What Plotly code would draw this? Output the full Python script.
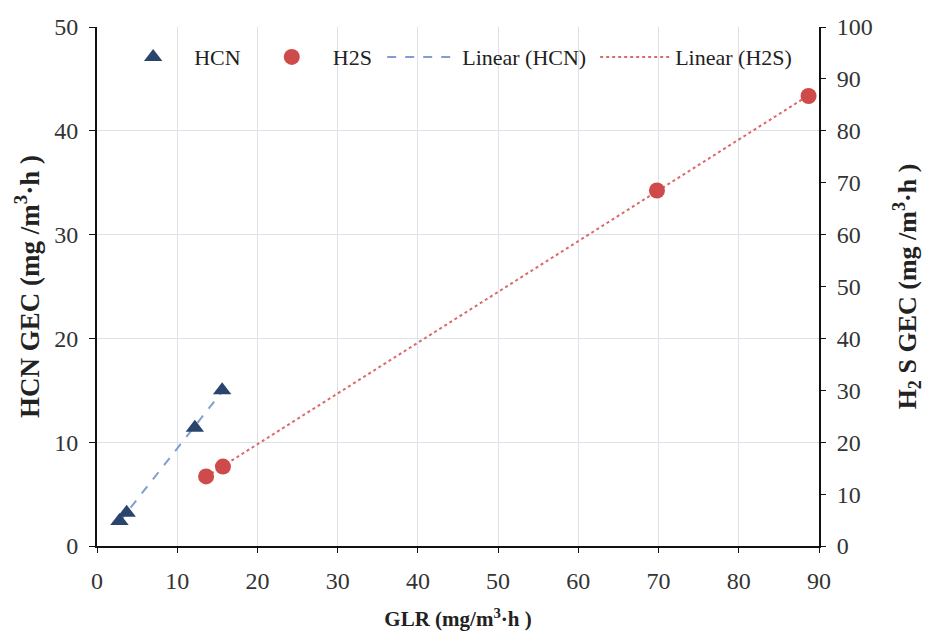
import numpy as np
import plotly.graph_objects as go

# GLR (x) and gas elimination capacity (y) for each compound
hcn_glr = [2.8, 3.7, 12.2, 15.6]
hcn_gec = [2.4, 3.2, 11.4, 15.0]
h2s_glr = [13.6, 15.7, 69.8, 88.7]
h2s_gec = [13.4, 15.3, 68.5, 86.7]

x_ticks = [0, 10, 20, 30, 40, 50, 60, 70, 80, 90]

FONT = "Liberation Serif, Times New Roman, serif"
NAVY = "#2B446E"
RED = "#CF4A4A"


def linear_fit(x, y):
    slope, icpt = np.polyfit(x, y, 1)
    xs = np.array([min(x), max(x)])
    return xs, slope * xs + icpt


hx, hy = linear_fit(hcn_glr, hcn_gec)
sx, sy = linear_fit(h2s_glr, h2s_gec)

fig = go.Figure()

fig.add_trace(go.Scatter(
    x=hx, y=hy, mode="lines", name="Linear (HCN)", legend="legend3",
    line=dict(color="#7F9FD0", width=2, dash="dash"), yaxis="y",
))
fig.add_trace(go.Scatter(
    x=sx, y=sy, mode="lines", name="Linear (H2S)", legend="legend4",
    line=dict(color="#D86A6A", width=2, dash="dot"), yaxis="y2",
))
fig.add_trace(go.Scatter(
    x=hcn_glr, y=hcn_gec, mode="markers", name="HCN", legend="legend",
    marker=dict(symbol="triangle-up", size=16, color=NAVY), yaxis="y",
))
fig.add_trace(go.Scatter(
    x=h2s_glr, y=h2s_gec, mode="markers", name="H2S", legend="legend2",
    marker=dict(symbol="circle", size=16, color=RED), yaxis="y2",
))

leg_common = dict(
    orientation="h", yanchor="middle", y=0.942, xanchor="left",
    bgcolor="rgba(0,0,0,0)", font=dict(family=FONT, size=22, color="#222"),
)

fig.update_layout(
    width=925, height=634,
    margin=dict(l=97, r=106, t=27, b=88, autoexpand=False),
    paper_bgcolor="white", plot_bgcolor="white",
    showlegend=True,
    font=dict(family=FONT, size=24, color="#333"),
    legend=dict(x=0.021, itemwidth=72, **leg_common),
    legend2=dict(x=0.213, itemwidth=72, **leg_common),
    legend3=dict(x=0.395, itemwidth=70, **leg_common),
    legend4=dict(x=0.69, itemwidth=70, **leg_common),
    xaxis=dict(
        range=[0, 90], tickvals=x_ticks, ticktext=[str(v) for v in x_ticks],
        showgrid=True, gridcolor="#DCE1EA", gridwidth=1,
        showline=True, linecolor="#111", linewidth=2,
        ticks="outside", ticklen=5, tickcolor="#111", ticklabelstandoff=7,
        zeroline=False, automargin=False,
        title=dict(text="<b>GLR (mg/m<sup>3</sup>·h )</b>",
                   font=dict(family=FONT, size=21, color="#222"), standoff=19),
    ),
    yaxis=dict(
        range=[0, 50], dtick=10,
        showgrid=True, gridcolor="#DCE1EA", gridwidth=1,
        showline=True, linecolor="#111", linewidth=2,
        ticks="outside", ticklen=6, tickcolor="#111", ticklabelstandoff=6,
        zeroline=False, automargin=False,
        title=dict(text="<b>HCN GEC (mg /m<sup>3</sup>·h )</b>",
                   font=dict(family=FONT, size=27, color="#222"), standoff=7),
    ),
    yaxis2=dict(
        range=[0, 100], dtick=10, overlaying="y", side="right",
        showgrid=False, showline=True, linecolor="#111", linewidth=2,
        ticks="outside", ticklen=5, tickcolor="#111", ticklabelstandoff=6,
        zeroline=False, automargin=False,
        title=dict(text="<b>H<sub>2</sub> S GEC (mg /m<sup>3</sup>·h )</b>",
                   font=dict(family=FONT, size=26, color="#222"), standoff=27),
    ),
)

fig.write_html("out.html")
